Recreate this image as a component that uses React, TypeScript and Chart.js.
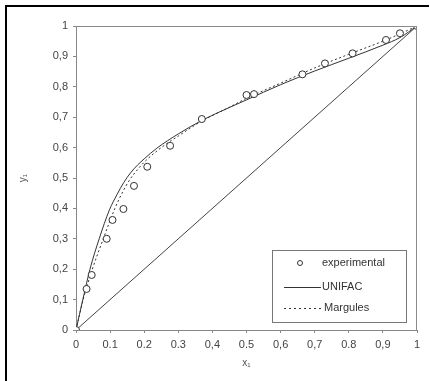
import React, { useEffect, useRef } from "react";
import { Chart, registerables } from "chart.js";

Chart.register(...registerables);

const expX = [0, 0.031, 0.046, 0.09, 0.107, 0.139, 0.17, 0.209, 0.276, 0.369, 0.5, 0.522, 0.664, 0.73, 0.811, 0.909, 0.95, 1];
const expY = [0, 0.135, 0.181, 0.3, 0.362, 0.398, 0.474, 0.537, 0.606, 0.694, 0.773, 0.776, 0.841, 0.877, 0.91, 0.954, 0.976, 1];

const unifacX = [0, 0.02, 0.041, 0.068, 0.098, 0.12, 0.14, 0.16, 0.18, 0.2, 0.237, 0.3, 0.37, 0.45, 0.5, 0.6, 0.7, 0.8, 0.9, 0.95, 1];
const unifacY = [0, 0.1, 0.2, 0.3, 0.395, 0.445, 0.485, 0.517, 0.542, 0.563, 0.598, 0.645, 0.69, 0.732, 0.757, 0.807, 0.852, 0.894, 0.937, 0.962, 1];

const margX = [0, 0.021, 0.048, 0.08, 0.114, 0.135, 0.158, 0.18, 0.2, 0.25, 0.3, 0.37, 0.45, 0.5, 0.6, 0.7, 0.8, 0.9, 0.95, 1];
const margY = [0, 0.1, 0.2, 0.3, 0.4, 0.45, 0.495, 0.527, 0.552, 0.6, 0.638, 0.688, 0.733, 0.762, 0.812, 0.862, 0.907, 0.95, 0.974, 1];

const diagX = [0, 1];
const diagY = [0, 1];

const xTickValues = [0, 0.1, 0.2, 0.3, 0.4, 0.5, 0.6, 0.7, 0.8, 0.9, 1];
const xTickLabels = ["0", "0.1", "0.2", "0.3", "0,4", "0.5", "0,6", "0,7", "0.8", "0,9", "1"];
const yTickValues = [0, 0.1, 0.2, 0.3, 0.4, 0.5, 0.6, 0.7, 0.8, 0.9, 1];
const yTickLabels = ["0", "0,1", "0,2", "0,3", "0,4", "0,5", "0,6", "0,7", "0,8", "0,9", "1"];

const legendLabels = ["experimental", "UNIFAC", "Margules"];

const zip = (xs: number[], ys: number[]) => xs.map((x, i) => ({ x, y: ys[i] }));

const FONT = "'Liberation Sans', Arial, sans-serif";

const framePlugin = {
  id: "frameAndLegend",
  beforeDraw(chart: any) {
    const ctx = chart.ctx;
    ctx.save();
    ctx.fillStyle = "#ffffff";
    ctx.fillRect(0, 0, chart.width, chart.height);
    ctx.restore();
  },
  afterDraw(chart: any) {
    const ctx = chart.ctx;
    const { left, top, right, bottom } = chart.chartArea;
    ctx.save();
    // plot box top and right edges
    ctx.strokeStyle = "#8a8a8a";
    ctx.lineWidth = 1;
    ctx.beginPath();
    ctx.moveTo(left, top + 0.5);
    ctx.lineTo(right, top + 0.5);
    ctx.moveTo(right - 0.5, top);
    ctx.lineTo(right - 0.5, bottom);
    ctx.stroke();

    // black frame (top & left)
    ctx.fillStyle = "#000";
    ctx.fillRect(5, 5, 424, 2);
    ctx.fillRect(5, 5, 2, 376);

    // legend box
    const bx = 272, by = 250, bw = 134, bh = 72;
    ctx.fillStyle = "#fff";
    ctx.fillRect(bx, by, bw, bh);
    ctx.strokeStyle = "#777";
    ctx.strokeRect(bx + 0.5, by + 0.5, bw, bh);

    ctx.font = `11px ${FONT}`;
    ctx.fillStyle = "#333";
    ctx.textBaseline = "middle";
    ctx.textAlign = "left";

    // experimental
    ctx.beginPath();
    ctx.strokeStyle = "#333";
    ctx.lineWidth = 1;
    ctx.arc(300, 263, 2.5, 0, Math.PI * 2);
    ctx.stroke();
    ctx.fillText(legendLabels[0], 322, 263);

    // UNIFAC
    ctx.beginPath();
    ctx.moveTo(284, 287.5);
    ctx.lineTo(321, 287.5);
    ctx.stroke();
    ctx.fillText(legendLabels[1], 322, 287);

    // Margules
    ctx.setLineDash([2, 3]);
    ctx.beginPath();
    ctx.moveTo(284, 308.5);
    ctx.lineTo(321, 308.5);
    ctx.stroke();
    ctx.setLineDash([]);
    ctx.fillText(legendLabels[2], 324, 308);

    ctx.restore();
  },
};

export default function App() {
  const ref = useRef<HTMLCanvasElement | null>(null);

  useEffect(() => {
    if (!ref.current) return;
    const chart = new Chart(ref.current, {
      type: "scatter",
      data: {
        datasets: [
          {
            label: legendLabels[0],
            data: zip(expX, expY),
            showLine: false,
            pointRadius: 3.5,
            pointBorderWidth: 1,
            pointBorderColor: "#333",
            pointBackgroundColor: "#fff",
            order: 0,
          },
          {
            label: legendLabels[1],
            data: zip(unifacX, unifacY),
            showLine: true,
            pointRadius: 0,
            borderColor: "#333",
            borderWidth: 1,
            cubicInterpolationMode: "monotone",
            order: 2,
          },
          {
            label: legendLabels[2],
            data: zip(margX, margY),
            showLine: true,
            pointRadius: 0,
            borderColor: "#333",
            borderWidth: 1,
            borderDash: [2, 2.5],
            cubicInterpolationMode: "monotone",
            order: 1,
          },
          {
            label: "diagonal",
            data: zip(diagX, diagY),
            showLine: true,
            pointRadius: 0,
            borderColor: "#444",
            borderWidth: 1,
            order: 3,
          },
        ],
      },
      options: {
        responsive: false,
        animation: false,
        layout: { padding: { top: 26, right: 13, left: 0, bottom: 0 } },
        plugins: {
          legend: { display: false },
          tooltip: { enabled: false },
          title: { display: false },
        },
        scales: {
          x: {
            type: "linear",
            min: 0,
            max: 1,
            afterBuildTicks: (s: any) => {
              s.ticks = xTickValues.map((v) => ({ value: v }));
            },
            afterFit: (s: any) => {
              s.height = 51;
            },
            ticks: {
              callback: (_v: any, i: number) => xTickLabels[i],
              font: { size: 11, family: FONT },
              color: "#444",
              padding: 5,
              maxRotation: 0,
              autoSkip: false,
            },
            grid: { drawOnChartArea: false, drawTicks: true, tickLength: 3, color: "#888" },
            border: { color: "#888" },
            title: {
              display: true,
              text: "x₁",
              font: { size: 10, family: FONT },
              color: "#555",
              padding: { top: 0, bottom: 12 },
            },
          },
          y: {
            type: "linear",
            min: 0,
            max: 1,
            afterBuildTicks: (s: any) => {
              s.ticks = yTickValues.map((v) => ({ value: v }));
            },
            afterFit: (s: any) => {
              s.width = 76;
            },
            ticks: {
              callback: (_v: any, i: number) => yTickLabels[i],
              font: { size: 11, family: FONT },
              color: "#444",
              padding: 5,
              autoSkip: false,
            },
            grid: { drawOnChartArea: false, drawTicks: true, tickLength: 3, color: "#888" },
            border: { color: "#888" },
            title: {
              display: true,
              text: "y₁",
              font: { size: 10, family: FONT },
              color: "#555",
              padding: { top: 17, bottom: 0 },
            },
          },
        },
      },
      plugins: [framePlugin],
    } as any);
    return () => chart.destroy();
  }, []);

  return (
    <div style={{ position: "fixed", left: 0, top: 0, width: 430, height: 381 }}>
      <canvas ref={ref} width={430} height={381} style={{ display: "block" }} />
    </div>
  );
}
